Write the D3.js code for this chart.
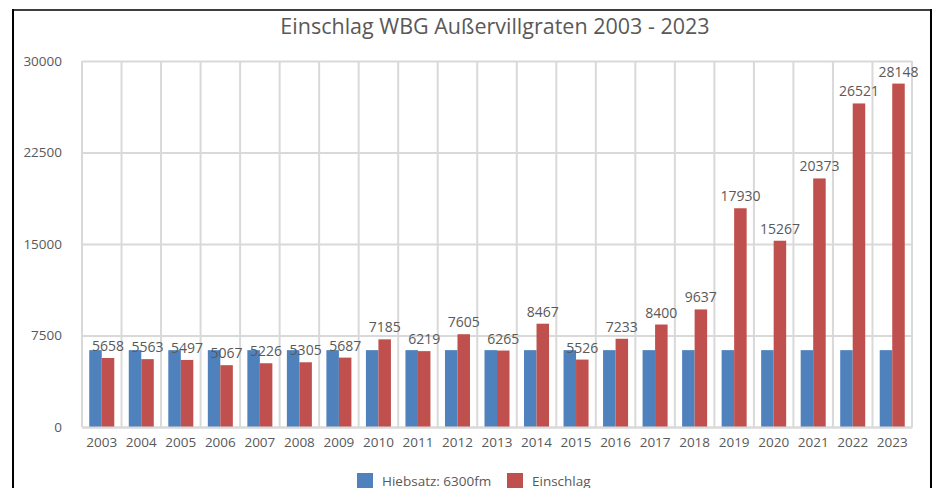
<!DOCTYPE html>
<html>
<head>
<meta charset="utf-8">
<script src="https://cdn.jsdelivr.net/npm/d3@7"></script>
<style>
  body { margin: 0; background: #fff; }
  svg text { font-family: "Open Sans", sans-serif; fill: #595959; }
</style>
</head>
<body>
<div id="chart"></div>
<script>
// data
var years = ["2003","2004","2005","2006","2007","2008","2009","2010","2011","2012","2013",
  "2014","2015","2016","2017","2018","2019","2020","2021","2022","2023"];
var hiebsatz = [6300,6300,6300,6300,6300,6300,6300,6300,6300,6300,6300,
  6300,6300,6300,6300,6300,6300,6300,6300,6300,6300];
var einschlag = [5658,5563,5497,5067,5226,5305,5687,7185,6219,7605,6265,
  8467,5526,7233,8400,9637,17930,15267,20373,26521,28148];
var yTicks = [0, 7500, 15000, 22500, 30000];
var seriesNames = ["Hiebsatz: 6300fm", "Einschlag"];
var colors = ["#4f81bd", "#c0504d"];

var width = 934, height = 488;
var plot = { left: 82, right: 912, top: 61, bottom: 427 };

var svg = d3.select("#chart").append("svg")
  .attr("width", width).attr("height", height);

// frame
svg.append("line").attr("x1", 13).attr("x2", 931).attr("y1", 10).attr("y2", 10)
  .attr("stroke", "#3f3f3f").attr("stroke-width", 2);
svg.append("line").attr("x1", 13).attr("x2", 13).attr("y1", 9).attr("y2", height)
  .attr("stroke", "#000").attr("stroke-width", 2);
svg.append("line").attr("x1", 931).attr("x2", 931).attr("y1", 9).attr("y2", height)
  .attr("stroke", "#000").attr("stroke-width", 2);

var x0 = d3.scaleBand().domain(years).range([plot.left, plot.right]).padding(0);
var x1 = d3.scaleBand().domain([0, 1]).range([0, x0.bandwidth()])
  .paddingInner(0).paddingOuter(0.58);
var y = d3.scaleLinear().domain([0, 30000]).range([plot.bottom, plot.top]);

// horizontal grid + y labels
var yAxis = svg.append("g").attr("transform", "translate(" + plot.left + ",0)")
  .call(d3.axisLeft(y).tickValues(yTicks).tickSize(-(plot.right - plot.left))
    .tickPadding(20).tickFormat(d3.format("d")));
yAxis.select(".domain").remove();
yAxis.selectAll(".tick line").attr("stroke", "#d9d9d9").attr("stroke-width", 2);
yAxis.selectAll(".tick text").style("font-size", "13.5px").attr("fill", "#595959");

// vertical grid at category boundaries
svg.append("g").selectAll("line")
  .data(years.concat(["end"]))
  .join("line")
  .attr("x1", function(d, i){ return i < years.length ? x0(d) : plot.right; })
  .attr("x2", function(d, i){ return i < years.length ? x0(d) : plot.right; })
  .attr("y1", plot.top).attr("y2", plot.bottom)
  .attr("stroke", "#d9d9d9").attr("stroke-width", 2);

// bars
var groups = svg.append("g").selectAll("g")
  .data(years)
  .join("g")
  .attr("transform", function(d){ return "translate(" + x0(d) + ",0)"; });

groups.append("rect")
  .attr("x", x1(0)).attr("width", x1.bandwidth())
  .attr("y", function(d, i){ return y(hiebsatz[i]); })
  .attr("height", function(d, i){ return plot.bottom - y(hiebsatz[i]); })
  .attr("fill", colors[0]);

groups.append("rect")
  .attr("x", x1(1)).attr("width", x1.bandwidth())
  .attr("y", function(d, i){ return y(einschlag[i]); })
  .attr("height", function(d, i){ return plot.bottom - y(einschlag[i]); })
  .attr("fill", colors[1]);

groups.append("text")
  .attr("x", x1(1) + x1.bandwidth() / 2)
  .attr("y", function(d, i){ return y(einschlag[i]) - 7; })
  .attr("text-anchor", "middle")
  .style("font-size", "14px")
  .attr("fill", "#404040")
  .text(function(d, i){ return einschlag[i]; });

// bottom axis
var xAxis = svg.append("g").attr("transform", "translate(0," + plot.bottom + ")")
  .call(d3.axisBottom(x0).tickSize(0).tickPadding(10));
xAxis.select(".domain").attr("stroke", "#d9d9d9").attr("stroke-width", 2);
xAxis.selectAll(".tick text").style("font-size", "13.5px").attr("fill", "#595959");

// title
svg.append("text")
  .attr("x", 495).attr("y", 34)
  .attr("text-anchor", "middle")
  .style("font-size", "21.5px")
  .text("Einschlag WBG Außervillgraten 2003 - 2023");

// legend
var legendX = [357, 507];
var legend = svg.append("g").selectAll("g")
  .data(seriesNames)
  .join("g")
  .attr("transform", function(d, i){ return "translate(" + legendX[i] + ",473)"; });
legend.append("rect").attr("width", 16).attr("height", 16)
  .attr("fill", function(d, i){ return colors[i]; });
legend.append("text").attr("x", 25).attr("y", 13)
  .style("font-size", "13.5px")
  .text(function(d){ return d; });
</script>
</body>
</html>
